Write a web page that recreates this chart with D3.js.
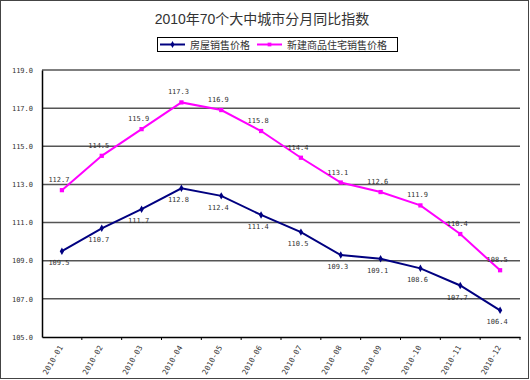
<!DOCTYPE html>
<html>
<head>
  <meta charset='utf-8'>
  <title>2010年70个大中城市分月同比指数</title>
  <style>
    body { margin: 0; background: #fff; }
    svg text { font-family: "Liberation Sans", "Noto Sans CJK SC", sans-serif; }
  </style>
</head>
<body>
<div id="chart"></div>
<script src="https://cdn.jsdelivr.net/npm/d3@7"></script>
<script>
  // chart data
  var months = ["2010-01", "2010-02", "2010-03", "2010-04", "2010-05", "2010-06",
    "2010-07", "2010-08", "2010-09", "2010-10", "2010-11", "2010-12"];
  var housePrice = [109.5, 110.7, 111.7, 112.8, 112.4, 111.4, 110.5, 109.3, 109.1, 108.6, 107.7, 106.4];
  var newHomePrice = [112.7, 114.5, 115.9, 117.3, 116.9, 115.8, 114.4, 113.1, 112.6, 111.9, 110.4, 108.5];
  var yTicks = [105, 107, 109, 111, 113, 115, 117, 119];
  var seriesNames = ["房屋销售价格", "新建商品住宅销售价格"];

  var BLUE = "#000080";
  var PINK = "#ff00ff";
  var SMALL_FONT = "'DejaVu Sans Mono', monospace";

  var W = 530, H = 380;
  var margin = { top: 70, right: 10, bottom: 43, left: 42 },
    width = W - margin.left - margin.right,
    height = H - margin.top - margin.bottom;

  var root = d3.select("#chart").append("svg")
    .attr("width", W).attr("height", H);

  // outer frame
  root.append("rect")
    .attr("x", 0.5).attr("y", 0.5)
    .attr("width", W - 2).attr("height", H - 2)
    .attr("fill", "none").attr("stroke", "#444");

  // title
  root.append("text")
    .attr("x", 262).attr("y", 24)
    .attr("text-anchor", "middle")
    .style("font-size", "14px")
    .attr("fill", "#333")
    .text("2010年70个大中城市分月同比指数");

  var svg = root.append("g")
    .attr("transform", "translate(" + margin.left + "," + margin.top + ")");

  var x = d3.scaleBand().domain(months).range([0, width]);
  var y = d3.scaleLinear().domain([105, 119]).range([height, 0]);

  // gridlines
  svg.append("g").selectAll("line")
    .data(yTicks.filter(function (d) { return d > 105; }))
    .enter().append("line")
    .attr("x1", 0).attr("x2", width)
    .attr("y1", function (d) { return y(d); })
    .attr("y2", function (d) { return y(d); })
    .attr("stroke", "#555").attr("stroke-width", 1.5);

  // y axis
  var yAxis = svg.append("g")
    .call(d3.axisLeft(y).tickValues(yTicks).tickSize(0).tickPadding(9)
      .tickFormat(d3.format(".1f")));
  yAxis.select(".domain").attr("stroke", "#000").attr("stroke-width", 1.5);
  yAxis.selectAll("text").style("font-size", "7px").attr("fill", "#333")
    .style("font-family", SMALL_FONT);

  // x axis
  var xAxis = svg.append("g")
    .attr("transform", "translate(0," + height + ")")
    .call(d3.axisBottom(x).tickSize(0).tickFormat(""));
  xAxis.select(".domain").attr("stroke", "#000").attr("stroke-width", 1.5);
  // ticks at category boundaries
  xAxis.append("g").selectAll("line")
    .data(months)
    .enter().append("line")
    .attr("x1", function (d) { return x(d) + x.bandwidth(); })
    .attr("x2", function (d) { return x(d) + x.bandwidth(); })
    .attr("y1", 0).attr("y2", 3)
    .attr("stroke", "#000");
  xAxis.append("g").selectAll("text")
    .data(months)
    .enter().append("text")
    .attr("transform", function (d) {
      return "translate(" + (x(d) + x.bandwidth() / 2 - 1) + ",9) rotate(-60)";
    })
    .attr("text-anchor", "end")
    .attr("dy", "0.35em")
    .style("font-size", "7.5px")
    .style("letter-spacing", "0.1px")
    .style("font-family", SMALL_FONT)
    .attr("fill", "#333")
    .text(function (d) { return d; });

  var line = d3.line()
    .x(function (d, i) { return x(months[i]) + x.bandwidth() / 2; })
    .y(function (d) { return y(d); });

  function drawSeries(values, color, shape, labelDy) {
    var g = svg.append("g");
    g.append("path")
      .datum(values)
      .attr("d", line)
      .attr("fill", "none")
      .attr("stroke", color)
      .attr("stroke-width", 2);
    g.selectAll("path.marker")
      .data(values)
      .enter().append("path")
      .attr("class", "marker")
      .attr("transform", function (d, i) {
        return "translate(" + (x(months[i]) + x.bandwidth() / 2) + "," + y(d) + ")";
      })
      .attr("d", d3.symbol().type(shape).size(shape === d3.symbolSquare ? 18 : 16))
      .attr("fill", color);
    g.selectAll("text")
      .data(values)
      .enter().append("text")
      .attr("x", function (d, i) { return x(months[i]) + x.bandwidth() / 2 - 3; })
      .attr("y", function (d) { return y(d) + labelDy; })
      .attr("text-anchor", "middle")
      .style("font-size", "7px")
      .style("font-family", SMALL_FONT)
      .attr("fill", "#333")
      .text(function (d) { return d.toFixed(1); });
  }

  drawSeries(housePrice, BLUE, d3.symbolDiamond, 14);
  drawSeries(newHomePrice, PINK, d3.symbolSquare, -8);

  // legend
  var legend = root.append("g");
  legend.append("rect")
    .attr("x", 157.5).attr("y", 37.5)
    .attr("width", 240).attr("height", 14)
    .attr("fill", "#fff").attr("stroke", "#000");
  var legendItems = [
    { name: seriesNames[0], color: BLUE, shape: d3.symbolDiamond, x0: 160 },
    { name: seriesNames[1], color: PINK, shape: d3.symbolSquare, x0: 257 }
  ];
  legendItems.forEach(function (it) {
    legend.append("line")
      .attr("x1", it.x0).attr("x2", it.x0 + 25)
      .attr("y1", 44.5).attr("y2", 44.5)
      .attr("stroke", it.color).attr("stroke-width", 2);
    legend.append("path")
      .attr("transform", "translate(" + (it.x0 + 12.5) + ",44.5)")
      .attr("d", d3.symbol().type(it.shape).size(14))
      .attr("fill", it.color);
    legend.append("text")
      .attr("x", it.x0 + 30).attr("y", 48.5)
      .style("font-size", "10px")
      .style("font-family", "'Noto Sans CJK SC', sans-serif")
      .attr("fill", "#333")
      .text(it.name);
  });
</script>
</body>
</html>
